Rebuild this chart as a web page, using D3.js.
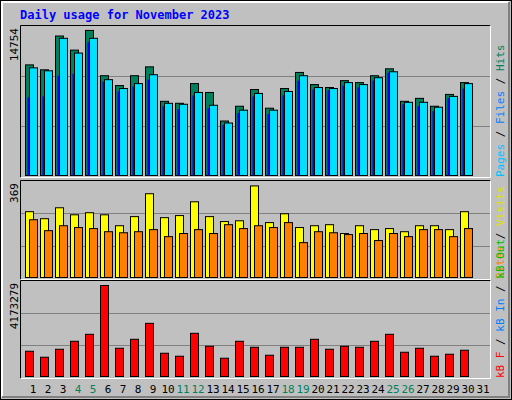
<!DOCTYPE html><html><head><script src="https://cdn.jsdelivr.net/npm/d3@7"></script>
<style>body{margin:0;background:#fff}</style></head><body><svg id="c" width="512" height="400"></svg><script>
const days=d3.range(1,32);
const weekend=[4,5,11,12,18,19,25,26];
const hits=[10953,10465,13813,12415,14365,9880,8905,9880,10758,7345,7150,9100,8223,5395,6858,8515,6663,8613,10205,9003,8710,9393,9198,9880,10563,7345,7638,6858,8028,9198];
const files=[10660,10368,13585,12123,13585,9490,8613,9100,9978,7150,7053,8223,6955,5200,6468,8125,6468,8320,9880,8710,8613,9198,9003,9685,10270,7248,7248,6760,7833,9100];
const pages=[7735,7833,9880,10075,13195,9295,8320,8808,9490,6858,6565,7930,6663,5005,6175,7833,6078,7930,9393,8515,8418,8905,8710,9393,10173,7053,6858,6370,7638,8613];
const visits=[253,226,268,241,249,241,199,234,322,230,238,291,234,215,218,352,211,245,192,199,203,169,199,184,188,176,199,199,184,253];
const sites=[222,180,199,192,188,176,172,176,184,157,169,184,169,203,188,199,192,211,134,176,172,165,169,142,169,157,184,184,157,188];
const kbf=[76,58,82,106,127,274,85,112,160,70,61,130,91,55,106,88,64,88,88,112,82,91,88,106,127,73,85,61,67,79].map(v=>v*14592);
const maxHits=14754,maxVisits=369,maxKB=4173279;
const svg=d3.select("#c");
const F="DejaVu Sans Mono, monospace";
svg.append("rect").attr("x",0.5).attr("y",0.5).attr("width",511).attr("height",399).attr("fill","#c0c0c0").attr("stroke","#000");
svg.append("path").attr("d","M2,397V2H509").attr("stroke","#fff").attr("fill","none").attr("stroke-width",2);
svg.append("path").attr("d","M2,397H509V2").attr("stroke","#808080").attr("fill","none").attr("stroke-width",2);
svg.append("text").attr("x",20).attr("y",19).text("Daily usage for November 2023").attr("fill","#0000ff").attr("font-family",F).attr("font-weight","bold").attr("font-size",12);
const x=d3.scaleLinear().domain([1,2]).range([25,40]);
function panel(y0,y1,max,label,series,rlabel){
  svg.append("rect").attr("x",20.5).attr("y",y0+0.5).attr("width",470).attr("height",y1-y0).attr("fill","#c0c0c0");
  const y=d3.scaleLinear().domain([0,max]).range([y1-2,y0+1]);
  [1,2].forEach(k=>{const gy=Math.round(y0+(y1-y0)*k/3)+0.5;svg.append("line").attr("x1",21).attr("x2",490).attr("y1",gy).attr("y2",gy).attr("stroke","#808080");});
  series.forEach(s=>{
    svg.append("g").selectAll("rect").data(s.v).join("rect")
      .attr("x",(d,i)=>x(i+1)+s.dx+0.5).attr("width",s.w).attr("y",d=>y(d)+0.5).attr("height",d=>y(0)-y(d))
      .attr("fill",s.c).attr("stroke",s.sk).attr("stroke-width",s.sk=="none"?0:1);
  });
  svg.append("path").attr("d",`M20.5,${y1+0.5}V${y0+0.5}H490.5`).attr("stroke","#000").attr("fill","none");
  svg.append("path").attr("d",`M20.5,${y1+0.5}H490.5V${y0+0.5}`).attr("stroke","#fff").attr("fill","none");
  svg.append("text").attr("transform",`translate(18,${y0+3}) rotate(-90)`).attr("text-anchor","end").attr("font-family",F).attr("font-size",11).text(label);
  const t=svg.append("text").attr("transform",`translate(504,${y1}) rotate(-90)`).attr("font-family",F).attr("font-size",11);
  rlabel.forEach(([s,c])=>t.append("tspan").attr("fill",c).text(s));
}
panel(25,177,maxHits,"14754",[
 {v:hits,dx:0,w:8,c:"#00805c",sk:"#000"},
 {v:pages,dx:2,w:3,c:"#0000ff",sk:"none"},
 {v:files,dx:4,w:8,c:"#00e0ff",sk:"#000"}],
 [["Pages","#00c0ff"],[" / ","#000"],["Files","#0080ff"],[" / ","#000"],["Hits","#00805c"]]);
panel(180,279,maxVisits,"369",[
 {v:visits,dx:0,w:8,c:"#ffff00",sk:"#000"},
 {v:sites,dx:4,w:8,c:"#ff8000",sk:"#000"}],
 [["Sites","#ff8000"],[" / ","#000"],["Visits","#e0e000"]]);
panel(280,378,maxKB,"4173279",[
 {v:kbf,dx:0,w:8,c:"#ff0000",sk:"#000"}],
 [["kB F","#ff0000"],[" / ","#000"],["kB In","#0080ff"],[" / ","#000"],["kB Out","#00c000"]]);
svg.append("g").selectAll("text").data(days).join("text").attr("x",d=>x(d)+8).attr("y",393).attr("text-anchor","middle")
 .attr("font-family",F).attr("font-size",11).attr("fill",d=>weekend.includes(d)?"#00805c":"#000").text(d=>d);
</script></body></html>
